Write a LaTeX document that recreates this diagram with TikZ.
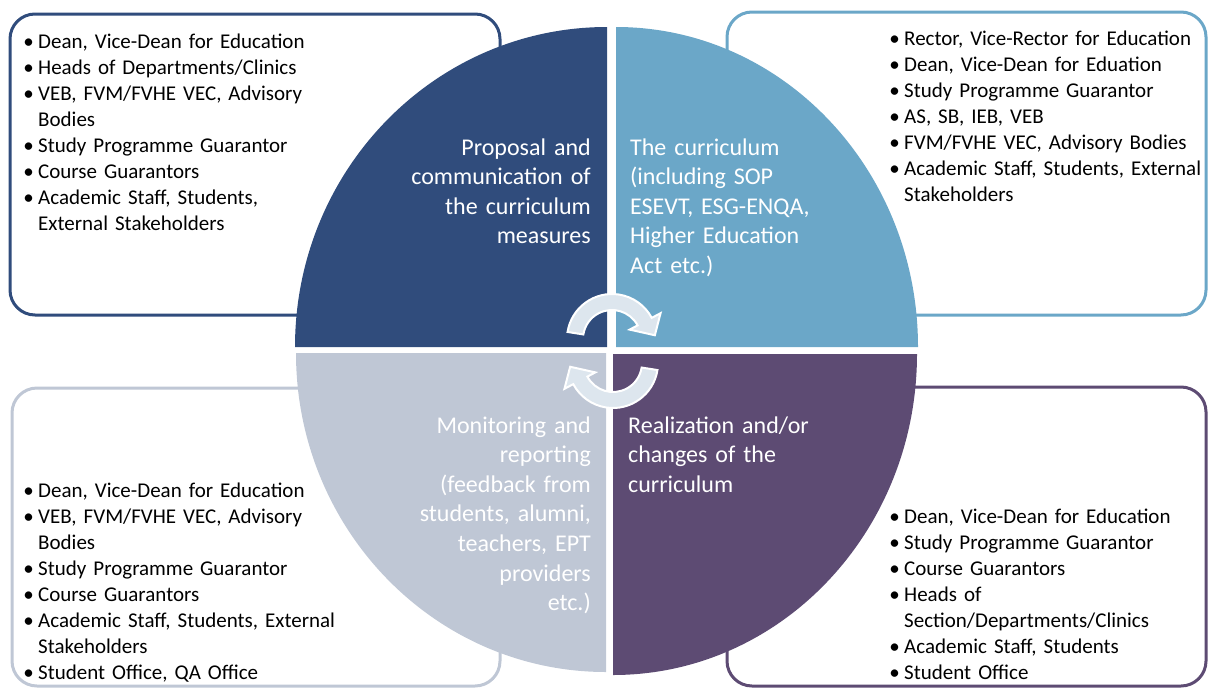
\documentclass[tikz,border=0pt]{standalone}
\usepackage{fontspec}
\setmainfont{Carlito}
\definecolor{qdark}{HTML}{304C7C}
\definecolor{qlight}{HTML}{6BA7C8}
\definecolor{qgrey}{HTML}{BFC7D5}
\definecolor{qpurple}{HTML}{5D4B73}
\definecolor{arrowfill}{HTML}{DDE6EE}
\newcommand{\itm}{\leavevmode\llap{\makebox[19pt][c]{\textbullet}}}
\begin{document}
\begin{tikzpicture}[x=1pt,y=1pt,
  listbox/.style={draw=#1, line width=3pt, rounded corners=25pt, fill=white},
  listtext/.style={anchor=base west, inner sep=0pt, text width=380pt, align=left, font=\fontsize{21}{26}\selectfont},
  labelR/.style={anchor=base east, inner sep=0pt, text width=250pt, align=right, text=white, font=\fontsize{24}{29.6}\selectfont},
  labelL/.style={anchor=base west, inner sep=0pt, text width=250pt, align=left, text=white, font=\fontsize{24}{29.6}\selectfont},
  cyclearrow/.style={fill=arrowfill, draw=white, line width=2pt, line join=miter}
]
\useasboundingbox (0,0) rectangle (1209,-688);

% list boxes
\draw[listbox=qdark] (10,-14) rectangle (500,-315);
\draw[listbox=qlight] (727,-12) rectangle (1206,-315);
\draw[listbox=qgrey] (12,-388) rectangle (500,-686);
\draw[listbox=qpurple] (727,-387) rectangle (1206,-686);

% quadrants
\fill[qdark] (607,-347) -- (295,-347) arc[start angle=180, end angle=90, x radius=312pt, y radius=320pt] -- cycle;
\fill[qlight] (616,-347) -- (616,-27) arc[start angle=90, end angle=0, x radius=302pt, y radius=320pt] -- cycle;
\fill[qgrey] (606,-353) -- (606,-672) arc[start angle=270, end angle=180, x radius=310pt, y radius=319pt] -- cycle;
\fill[qpurple] (613,-354) -- (917,-354) arc[start angle=0, end angle=-90, x radius=304pt, y radius=321pt] -- cycle;

% cycle arrows
\begin{scope}[shift={(612,-339)}]
\filldraw[cyclearrow] (171:45pt) arc[start angle=171, end angle=28, radius=45pt]
  -- (28:55pt) -- (5:43pt) -- (28:20pt) -- (28:29pt)
  arc[start angle=28, end angle=171, radius=29pt] -- cycle;
\end{scope}
\begin{scope}[shift={(613,-363)}]
\filldraw[cyclearrow] (351:45pt) arc[start angle=351, end angle=208, radius=45pt]
  -- (208:55pt) -- (185:43pt) -- (208:20pt) -- (208:29pt)
  arc[start angle=208, end angle=351, radius=29pt] -- cycle;
\end{scope}

% quadrant labels
\node[labelR] (ltl) at (591,-155) {Proposal and\\communication of\\the curriculum\\measures};
\node[labelL] (ltr) at (630,-155) {The curriculum\\(including SOP\\ESEVT, ESG-ENQA,\\Higher Education\\Act etc.)};
\node[labelL] (lbr) at (628,-433) {Realization and/or\\changes of the\\curriculum};
\node[labelR] (lbl) at (591,-433) {Monitoring and\\reporting\\(feedback from\\students, alumni,\\teachers, EPT\\providers\\etc.)};

% lists
\node[listtext] (tl) at (38,-48.5) {\itm Dean, Vice-Dean for Education\\
\itm Heads of Departments/Clinics\\
\itm VEB, FVM/FVHE VEC, Advisory\\
Bodies\\
\itm Study Programme Guarantor\\
\itm Course Guarantors\\
\itm Academic Staff, Students,\\
External Stakeholders};
\node[listtext] (tr) at (904,-45) {\itm Rector, Vice-Rector for Education\\
\itm Dean, Vice-Dean for Eduation\\
\itm Study Programme Guarantor\\
\itm AS, SB, IEB, VEB\\
\itm FVM/FVHE VEC, Advisory Bodies\\
\itm Academic Staff, Students, External\\
Stakeholders};
\node[listtext] (bl) at (38,-497) {\itm Dean, Vice-Dean for Education\\
\itm VEB, FVM/FVHE VEC, Advisory\\
Bodies\\
\itm Study Programme Guarantor\\
\itm Course Guarantors\\
\itm Academic Staff, Students, External\\
Stakeholders\\
\itm Student Office, QA Office};
\node[listtext] (br) at (904,-523) {\itm Dean, Vice-Dean for Education\\
\itm Study Programme Guarantor\\
\itm Course Guarantors\\
\itm Heads of\\
Section/Departments/Clinics\\
\itm Academic Staff, Students\\
\itm Student Office};
\end{tikzpicture}
\end{document}
